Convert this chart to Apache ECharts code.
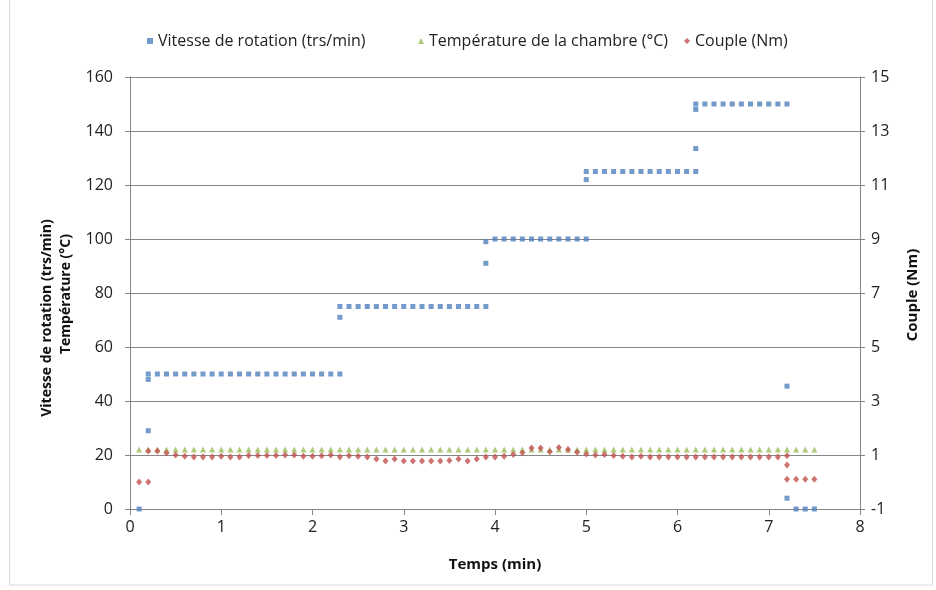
<!DOCTYPE html>
<html>
<head>
<meta charset="utf-8">
<script src="https://cdn.jsdelivr.net/npm/echarts@6/dist/echarts.min.js"></script>
<style>
  html, body { margin: 0; padding: 0; background: #fff; }
  #chart { width: 936px; height: 590px; }
</style>
</head>
<body>
<div id="chart"></div>
<script>
// Time of each regular sample (min)
const temps = [
  0.1, 0.2, 0.3, 0.4, 0.5, 0.6, 0.7, 0.8, 0.9, 1.0,
  1.1, 1.2, 1.3, 1.4, 1.5, 1.6, 1.7, 1.8, 1.9, 2.0,
  2.1, 2.2, 2.3, 2.4, 2.5, 2.6, 2.7, 2.8, 2.9, 3.0,
  3.1, 3.2, 3.3, 3.4, 3.5, 3.6, 3.7, 3.8, 3.9, 4.0,
  4.1, 4.2, 4.3, 4.4, 4.5, 4.6, 4.7, 4.8, 4.9, 5.0,
  5.1, 5.2, 5.3, 5.4, 5.5, 5.6, 5.7, 5.8, 5.9, 6.0,
  6.1, 6.2, 6.3, 6.4, 6.5, 6.6, 6.7, 6.8, 6.9, 7.0,
  7.1, 7.2, 7.3, 7.4, 7.5
];

// Rotation speed (trs/min)
const vitesse = [
  0, 50, 50, 50, 50, 50, 50, 50, 50, 50,
  50, 50, 50, 50, 50, 50, 50, 50, 50, 50,
  50, 50, 50, 75, 75, 75, 75, 75, 75, 75,
  75, 75, 75, 75, 75, 75, 75, 75, 75, 100,
  100, 100, 100, 100, 100, 100, 100, 100, 100, 100,
  125, 125, 125, 125, 125, 125, 125, 125, 125, 125,
  125, 125, 150, 150, 150, 150, 150, 150, 150, 150,
  150, 150, 0, 0, 0
];
// Extra speed readings taken during the speed steps
const vitesseSuppTemps   = [0.2, 0.2, 2.3, 2.3, 3.9, 3.9, 5.0, 5.0, 6.2, 6.2, 6.2, 7.2, 7.2];
const vitesseSuppValeurs = [29, 48, 71, 75, 91, 99, 122, 125, 133.5, 148, 150, 45.5, 4];

// Chamber temperature (°C)
const temperature = [
  22, 22, 22, 22, 22, 22, 22, 22, 22, 22,
  22, 22, 22, 22, 22, 22, 22, 22, 22, 22,
  22, 22, 22, 22, 22, 22, 22, 22, 22, 22,
  22, 22, 22, 22, 22, 22, 22, 22, 22, 22,
  22, 22, 22, 22, 22, 22, 22, 22, 22, 22,
  22, 22, 22, 22, 22, 22, 22, 22, 22, 22,
  22, 22, 22, 22, 22, 22, 22, 22, 22, 22,
  22, 22, 22, 22, 22
];

// Torque (Nm)
const couple = [
  0.0, 1.15, 1.15, 1.07, 1.0, 0.95, 0.93, 0.93, 0.93, 0.95,
  0.93, 0.93, 0.98, 0.98, 0.98, 0.98, 1.0, 1.0, 0.95, 0.95,
  0.97, 1.0, 0.93, 0.97, 0.95, 0.93, 0.85, 0.78, 0.85, 0.78,
  0.78, 0.78, 0.78, 0.78, 0.8, 0.85, 0.78, 0.85, 0.93, 0.93,
  0.95, 1.02, 1.08, 1.26, 1.26, 1.12, 1.28, 1.2, 1.1, 1.04,
  1.0, 1.02, 0.98, 0.95, 0.93, 0.95, 0.93, 0.93, 0.93, 0.93,
  0.93, 0.93, 0.93, 0.93, 0.93, 0.93, 0.93, 0.93, 0.93, 0.93,
  0.93, 0.97, 0.1, 0.1, 0.1
];
const coupleSuppTemps   = [0.2, 7.2, 7.2];
const coupleSuppValeurs = [0.0, 0.63, 0.1];

// Axis ranges and ticks
const xTicks = { min: 0, max: 8, step: 1 };
const yGauche = { min: 0, max: 160, step: 20 };
const yDroite = { min: -1, max: 15, step: 2 };

const NOMS = ['Vitesse de rotation (trs/min)', 'Température de la chambre (°C)', 'Couple (Nm)'];
const COULEURS = ['#4F81BD', '#9BBB59', '#C0504D'];

function paires(t, v) { return t.map((x, i) => [x, v[i]]); }

const dataVitesse = paires(temps, vitesse).concat(paires(vitesseSuppTemps, vitesseSuppValeurs));
const dataTemp = paires(temps, temperature);
const dataCouple = paires(temps, couple).concat(paires(coupleSuppTemps, coupleSuppValeurs));

const POLICE = 'Open Sans, Liberation Sans, sans-serif';
const GRIS = '#868686';

const chart = echarts.init(document.getElementById('chart'), null, { renderer: 'canvas' });

function legende(nom, gauche, icone) {
  return {
    data: [{ name: nom, icon: icone }],
    left: gauche, top: 33, padding: 0,
    itemWidth: 6, itemHeight: 6,
    textStyle: { fontFamily: POLICE, fontSize: 16, color: '#222' },
    selectedMode: false
  };
}

chart.setOption({
  animation: false,
  backgroundColor: '#fff',
  textStyle: { fontFamily: POLICE },
  legend: [
    legende(NOMS[0], 147, 'rect'),
    legende(NOMS[1], 418, 'triangle'),
    legende(NOMS[2], 684, 'diamond')
  ],
  grid: { left: 130, right: 76, top: 77, bottom: 81, containLabel: false },
  xAxis: {
    type: 'value', min: xTicks.min, max: xTicks.max, interval: xTicks.step,
    axisLine: { show: true, onZero: false, lineStyle: { color: GRIS, width: 1 } },
    axisTick: { show: true, length: 6, lineStyle: { color: GRIS } },
    splitLine: { show: false },
    axisLabel: { fontFamily: POLICE, fontSize: 16, color: '#222', margin: 10 }
  },
  yAxis: [
    {
      type: 'value', min: yGauche.min, max: yGauche.max, interval: yGauche.step,
      axisLine: { show: true, lineStyle: { color: GRIS } },
      axisTick: { show: true, length: 5, lineStyle: { color: GRIS } },
      splitLine: { show: true, lineStyle: { color: GRIS, width: 1 } },
      axisLabel: { fontFamily: POLICE, fontSize: 16, color: '#222', margin: 17 }
    },
    {
      type: 'value', min: yDroite.min, max: yDroite.max, interval: yDroite.step,
      position: 'right',
      axisLine: { show: true, lineStyle: { color: GRIS } },
      axisTick: { show: true, length: 5, lineStyle: { color: GRIS } },
      splitLine: { show: false },
      axisLabel: { fontFamily: POLICE, fontSize: 16, color: '#222', margin: 11 }
    }
  ],
  series: [
    {
      name: NOMS[0], type: 'scatter', yAxisIndex: 0,
      symbol: 'rect', symbolSize: [5, 5],
      itemStyle: { color: COULEURS[0] },
      data: dataVitesse, z: 3
    },
    {
      name: NOMS[1], type: 'scatter', yAxisIndex: 0,
      symbol: 'triangle', symbolSize: [6, 6],
      itemStyle: { color: COULEURS[1] },
      data: dataTemp, z: 2
    },
    {
      name: NOMS[2], type: 'scatter', yAxisIndex: 1,
      symbol: 'diamond', symbolSize: [6, 7],
      itemStyle: { color: COULEURS[2] },
      data: dataCouple, z: 4
    }
  ],
  graphic: [
    {
      type: 'rect', silent: true, z: -1,
      shape: { x: 9.5, y: -2, width: 923, height: 587 },
      style: { fill: 'none', stroke: '#d9d9d9', lineWidth: 1 }
    },
    {
      type: 'text', x: 47, y: 318, rotation: Math.PI / 2,
      style: { text: 'Vitesse de rotation (trs/min)', fontFamily: POLICE, fontSize: 14, fontWeight: 'bold',
               fill: '#111', align: 'center', verticalAlign: 'middle' }
    },
    {
      type: 'text', x: 66, y: 294, rotation: Math.PI / 2,
      style: { text: 'Température (°C)', fontFamily: POLICE, fontSize: 14, fontWeight: 'bold',
               fill: '#111', align: 'center', verticalAlign: 'middle' }
    },
    {
      type: 'text', x: 913, y: 295, rotation: Math.PI / 2,
      style: { text: 'Couple (Nm)', fontFamily: POLICE, fontSize: 15, fontWeight: 'bold',
               fill: '#111', align: 'center', verticalAlign: 'middle' }
    },
    {
      type: 'text', x: 495, y: 565,
      style: { text: 'Temps (min)', fontFamily: POLICE, fontSize: 15, fontWeight: 'bold',
               fill: '#111', align: 'center', verticalAlign: 'middle' }
    }
  ]
});
</script>
</body>
</html>
